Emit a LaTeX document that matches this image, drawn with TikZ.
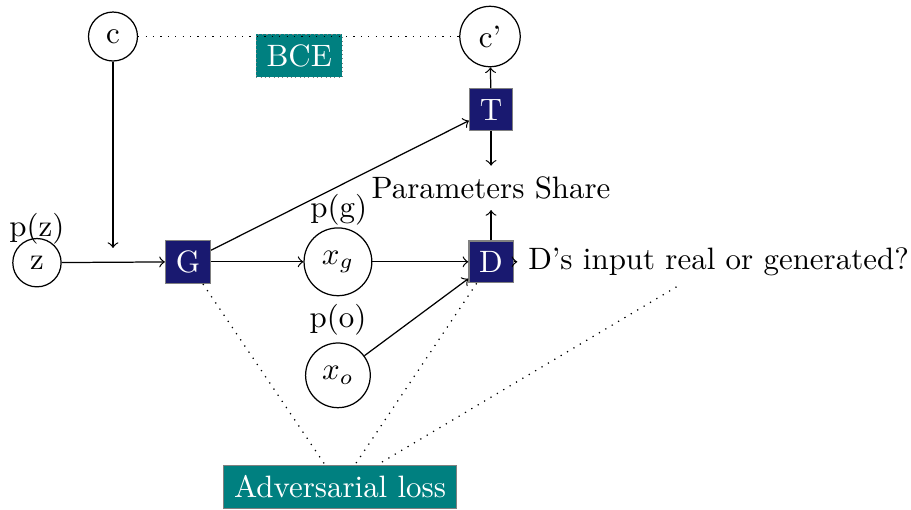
\documentclass[tikz,border=0pt]{standalone}
\usepackage{tikz}
\usetikzlibrary{positioning}
\definecolor{netblue}{RGB}{25,25,112}
\definecolor{losscol}{RGB}{0,128,128}

\begin{document}
\begin{tikzpicture}[
	var/.style={draw, circle},
	net/.style={draw=gray, fill=netblue, text=white},
	loss/.style={draw=gray, fill=losscol, text=white}]
	\useasboundingbox (0,0) rectangle (10.352,5.795);
	% nodes
	\node [var] (z) at (0.42,2.81) {z};
	\node [net] (G) at (2.136,2.82) {G};
	\node [var] (xg) at (3.84,2.82) {$x_g$};
	\node [net] (D) at (5.58,2.82) {D};
	\node [var] (xo) at (3.84,1.53) {$x_o$};
	\node [net] (T) at (5.58,4.55) {T};
	\node [var] (c) at (1.284,5.38) {c};
	\node [var] (cp) at (5.568,5.38) {c'};
	\node (share) at (5.58,3.66) {Parameters Share};
	\node [loss, densely dotted] (bce) at (3.40,5.16) {BCE};
	\node [loss] (adv) at (3.864,0.261) {Adversarial loss};
	\node [right=0.04 of D] (out) {D's input real or generated?};
	\node (pz) at (0.42,3.19) {p(z)};
	\node (pg) at (3.85,3.41) {p(g)};
	\node (po) at (3.84,2.16) {p(o)};
	\coordinate (cin) at (1.284,2.977);
	% connections
	\draw [->] (z) -- (G);
	\draw [->] (c) -- (cin);
	\draw [->] (G) -- (xg);
	\draw [->] (xg) -- (D);
	\draw [->] (xo) -- (D);
	\draw [->] (G) -- (T);
	\draw [->] (T) -- (cp);
	\draw [->] (T) -- (share);
	\draw [->] (D) -- (share);
	\draw [->] (D) -- (out);
	\draw [dotted] (c) -- (cp);
	\draw [dotted] (G) -- (adv);
	\draw [dotted] (D) -- (adv);
	\draw [dotted] (out) -- (adv);
\end{tikzpicture}
\end{document}
